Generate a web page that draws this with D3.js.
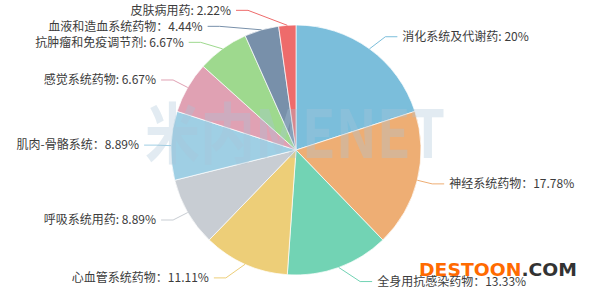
<!DOCTYPE html>
<html>
<head>
<meta charset="utf-8">
<script src="https://cdn.jsdelivr.net/npm/d3@7"></script>
<style>
  body { margin: 0; background: #fff; }
  text { font-family: "Noto Sans CJK SC", "Noto Sans", sans-serif; }
</style>
</head>
<body>
<div id="container"></div>
<script>
/* DATA */
const names = ["消化系统及代谢药", "神经系统药物", "全身用抗感染药物", "心血管系统药物", "呼吸系统用药",
  "肌肉-骨骼系统", "感觉系统药物", "抗肿瘤和免疫调节剂", "血液和造血系统药物", "皮肤病用药"];
const shares = [20, 17.78, 13.33, 11.11, 8.89, 8.89, 6.67, 6.67, 4.44, 2.22];
const shareLabels = ["20%", "17.78%", "13.33%", "11.11%", "8.89%", "8.89%", "6.67%", "6.67%", "4.44%", "2.22%"];
const separators = [": ", "：", "：", "：", ": ", "：", ": ", ": ", "：", ": "];
const colors = ["#7bbedb", "#eeae74", "#72d3b4", "#edce78", "#c8cdd3",
  "#9fcfe4", "#e0a1b3", "#9ed98e", "#7890aa", "#ee6b6b"];

/* CONSTANTS */
const width = 591, height = 291;
const cx = 296, cy = 150, r = 125;
const len = 15, len2 = 12, lineH = 16;

const svg = d3.select("#container")
  .append("svg")
  .attr("width", width)
  .attr("height", height);

const data = names.map((name, i) => ({
  name, value: shares[i], label: name + separators[i] + shareLabels[i], color: colors[i]
}));

const pie = d3.pie().sort(null).value(d => d.value);
const arcs = pie(data);
const arcGen = d3.arc().innerRadius(0).outerRadius(r);

const g = svg.append("g").attr("transform", `translate(${cx},${cy})`);

// slices
g.selectAll("path.slice")
  .data(arcs)
  .join("path")
  .attr("class", "slice")
  .attr("d", arcGen)
  .attr("fill", d => d.data.color)
  .attr("stroke", "#fff")
  .attr("stroke-width", 0.7);

// label layout (outer labels, pushed apart per side)
const labels = arcs.map(a => {
  const mid = (a.startAngle + a.endAngle) / 2;
  const dx = Math.sin(mid), dy = -Math.cos(mid);
  return { a, dir: dx < 0 ? -1 : 1, x1: r * dx, y1: r * dy, y: (r + len) * dy };
});

function layoutSide(list, dir) {
  list.sort((p, q) => p.y - q.y);
  let last = -Infinity;
  list.forEach(l => {
    if (l.y < last) l.y = last;
    last = l.y + lineH;
  });
  const maxY = height - cy - 9;
  for (let i = list.length - 1; i >= 0; i--) {
    const lim = i === list.length - 1 ? maxY : list[i + 1].y - lineH;
    if (list[i].y > lim) list[i].y = lim;
  }
  const R = r + len + len2;
  const up = list.filter(l => l.y < 0);
  const down = list.filter(l => l.y >= 0);
  let lastDx = 0;
  up.forEach(l => {
    let d = Math.sqrt(Math.max(R * R - l.y * l.y, 0));
    if (d <= lastDx) d = lastDx + 10;
    l.x = d * dir;
    lastDx = d;
  });
  lastDx = Infinity;
  down.forEach(l => {
    let d = Math.sqrt(Math.max(R * R - l.y * l.y, 0));
    if (d >= lastDx) d = lastDx - 10;
    l.x = d * dir;
    lastDx = d;
  });
}
layoutSide(labels.filter(l => l.dir < 0), -1);
layoutSide(labels.filter(l => l.dir > 0), 1);

// label lines
g.selectAll("polyline.line")
  .data(labels)
  .join("polyline")
  .attr("class", "line")
  .attr("points", l => [[l.x1, l.y1], [l.x - l.dir * len2, l.y], [l.x, l.y]].map(p => p.join(",")).join(" "))
  .attr("fill", "none")
  .attr("stroke", l => l.a.data.color)
  .attr("stroke-width", 1);

// label texts
g.selectAll("text.label")
  .data(labels)
  .join("text")
  .attr("class", "label")
  .attr("x", l => l.x + l.dir * 5)
  .attr("y", l => l.y)
  .attr("dy", "0.35em")
  .attr("text-anchor", l => l.dir < 0 ? "end" : "start")
  .attr("font-size", 12)
  .attr("fill", "#3c3c3c")
  .text(l => l.a.data.label);

// watermark
svg.append("text")
  .attr("x", 145)
  .attr("y", 158)
  .attr("font-size", 66)
  .attr("font-weight", "bold")
  .attr("fill", "#a9c5d8")
  .attr("opacity", 0.33)
  .attr("textLength", 300)
  .attr("lengthAdjust", "spacingAndGlyphs")
  .text("米内MENET");

const dest = svg.append("text")
  .attr("x", 419)
  .attr("y", 276)
  .attr("font-size", 18)
  .attr("font-weight", "bold")
  .attr("textLength", 158)
  .attr("lengthAdjust", "spacingAndGlyphs")
  .style("font-family", "'DejaVu Sans', sans-serif");
dest.append("tspan").attr("fill", "#ff6a00").text("DESTOON");
dest.append("tspan").attr("fill", "#333").text(".COM");
</script>
</body>
</html>
